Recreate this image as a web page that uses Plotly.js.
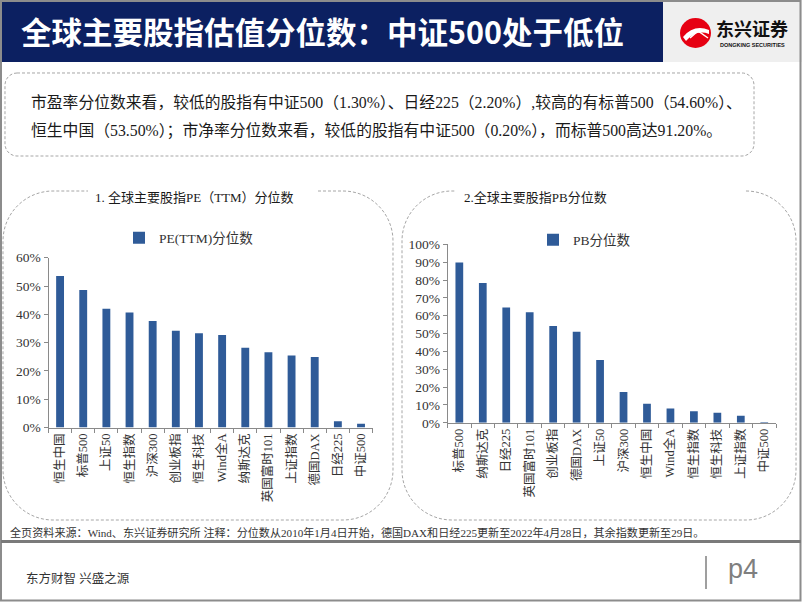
<!DOCTYPE html>
<html>
<head>
<meta charset="utf-8">
<script src="https://cdn.plot.ly/plotly-3.0.1.min.js"></script>
<style>html,body{margin:0;padding:0;overflow:hidden;background:#fff;}#chart{width:802px;height:602px;}</style>
</head>
<body>
<div id="chart"></div>
<script>
// ---- data ----
const peCategories = ["恒生中国","标普500","上证50","恒生指数","沪深300","创业板指","恒生科技","Wind全A","纳斯达克","英国富时101","上证指数","德国DAX","日经225","中证500"];
const peValues = [53.5, 48.6, 42.0, 40.6, 37.6, 34.2, 33.3, 32.7, 28.2, 26.6, 25.4, 24.9, 2.2, 1.3];
const pbCategories = ["标普500","纳斯达克","日经225","英国富时101","创业板指","德国DAX","上证50","沪深300","恒生中国","Wind全A","恒生指数","恒生科技","上证指数","中证500"];
const pbValues = [89.8, 78.3, 64.6, 62.0, 54.3, 51.1, 35.2, 17.2, 10.7, 8.0, 6.5, 5.7, 3.9, 0.5];
const peSeriesName = "PE(TTM)分位数";
const pbSeriesName = "PB分位数";
const pageTitle = "全球主要股指估值分位数：中证500处于低位";
const summaryLine1 = "市盈率分位数来看，较低的股指有中证500（1.30%）、日经225（2.20%）,较高的有标普500（54.60%）、";
const summaryLine2 = "恒生中国（53.50%）；市净率分位数来看，较低的股指有中证500（0.20%），而标普500高达91.20%。";
const chart1Title = "1. 全球主要股指PE（TTM）分位数";
const chart2Title = "2.全球主要股指PB分位数";
const sourceNote = "全页资料来源：Wind、东兴证券研究所 注释：分位数从2010年1月4日开始，德国DAX和日经225更新至2022年4月28日，其余指数更新至29日。";
const footerText = "东方财智 兴盛之源";
const pageNo = "p4";

// ---- helpers ----
const W = 802, H = 602;
const X = p => p / W;
const Y = p => 1 - p / H;
const SERIF = "'Liberation Serif', 'Noto Sans CJK SC', serif";
const SANS = "'Noto Sans CJK SC', 'Liberation Sans', sans-serif";
const BAR = "#2f5b98";
const AX = "#8a8a8a";
const TXT = "#333333";

function boxPath(x0, y0, x1, y1, r, gapL, gapR) {
  const k = 0.5523 * r;
  const P = (x, y) => X(x).toFixed(5) + "," + Y(y).toFixed(5);
  let s = "";
  if (gapL == null) {
    s += "M" + P(x0 + r, y0);
  } else {
    s += "M" + P(gapR, y0);
  }
  s += " L" + P(x1 - r, y0);
  s += " C" + P(x1 - r + k, y0) + " " + P(x1, y0 + r - k) + " " + P(x1, y0 + r);
  s += " L" + P(x1, y1 - r);
  s += " C" + P(x1, y1 - r + k) + " " + P(x1 - r + k, y1) + " " + P(x1 - r, y1);
  s += " L" + P(x0 + r, y1);
  s += " C" + P(x0 + r - k, y1) + " " + P(x0, y1 - r + k) + " " + P(x0, y1 - r);
  s += " L" + P(x0, y0 + r);
  s += " C" + P(x0, y0 + r - k) + " " + P(x0 + r - k, y0) + " " + P(x0 + r, y0);
  if (gapL == null) s += " Z"; else s += " L" + P(gapL, y0);
  return s;
}

const traces = [
  {type: "bar", x: peCategories, y: peValues, name: peSeriesName, xaxis: "x", yaxis: "y",
   marker: {color: BAR}, width: 0.34, legend: "legend", hoverinfo: "x+y"},
  {type: "bar", x: pbCategories, y: pbValues, name: pbSeriesName, xaxis: "x2", yaxis: "y2",
   marker: {color: BAR}, width: 0.33, legend: "legend2", hoverinfo: "x+y"}
];

const xCommon = {
  type: "category", showline: true, linecolor: AX, linewidth: 1,
  ticks: "outside", tickson: "boundaries", ticklen: 4, tickcolor: AX,
  tickangle: -90, tickfont: {family: SERIF, size: 12.5, color: TXT},
  showgrid: false, zeroline: false, fixedrange: true, automargin: false
};
const yCommon = {
  showline: true, linecolor: AX, linewidth: 1, ticks: "outside", ticklen: 4, tickcolor: AX,
  ticksuffix: "%", tickfont: {family: SERIF, size: 13.5, color: TXT},
  showgrid: false, zeroline: false, fixedrange: true, automargin: false, dtick: 10
};

const layout = {
  width: W, height: H,
  margin: {l: 0, r: 0, t: 0, b: 0, pad: 0},
  paper_bgcolor: "#ffffff", plot_bgcolor: "rgba(0,0,0,0)",
  showlegend: true, bargap: 0.66,
  xaxis: Object.assign({}, xCommon, {domain: [X(48.5), X(372.6)], anchor: "y"}),
  yaxis: Object.assign({}, yCommon, {domain: [Y(427.5), Y(257.7)], range: [0, 60], anchor: "x"}),
  xaxis2: Object.assign({}, xCommon, {domain: [X(447.6), X(776)], anchor: "y2"}),
  yaxis2: Object.assign({}, yCommon, {domain: [Y(422.8), Y(244.4)], range: [0, 100], anchor: "x2"}),
  legend: {x: X(119), y: Y(238), xanchor: "left", yanchor: "middle", orientation: "h",
           bgcolor: "rgba(0,0,0,0)", font: {family: SERIF, size: 13.5, color: TXT}},
  legend2: {x: X(533), y: Y(240), xanchor: "left", yanchor: "middle", orientation: "h",
           bgcolor: "rgba(0,0,0,0)", font: {family: SERIF, size: 13.5, color: TXT}},
  shapes: [
    // title bar
    {type: "rect", xref: "paper", yref: "paper", x0: X(0), x1: X(663), y0: Y(0), y1: Y(62),
     fillcolor: "#0c2061", line: {width: 0}, layer: "below"},
    // logo area
    {type: "rect", xref: "paper", yref: "paper", x0: X(663), x1: X(802), y0: Y(0), y1: Y(62),
     fillcolor: "#efefef", line: {width: 0}, layer: "below"},
    // slide frame
    {type: "rect", xref: "paper", yref: "paper", x0: X(1), x1: X(800.5), y0: Y(1), y1: Y(600.5),
     line: {color: "#8c8c8c", width: 2}, fillcolor: "rgba(0,0,0,0)"},
    // logo circle
    {type: "circle", xref: "paper", yref: "paper", x0: X(680), x1: X(711), y0: Y(18), y1: Y(48),
     fillcolor: "#e60012", line: {width: 0}},
    {type: "path", xref: "paper", yref: "paper",
     path: "M" + X(683) + "," + Y(37) + " Q" + X(694) + "," + Y(24) + " " + X(709) + "," + Y(30) +
           " L" + X(709) + "," + Y(34) + " Q" + X(696) + "," + Y(29) + " " + X(686) + "," + Y(41) + " Z",
     fillcolor: "#ffffff", line: {width: 0}},
    {type: "path", xref: "paper", yref: "paper",
     path: "M" + X(690) + "," + Y(38) + " L" + X(698) + "," + Y(31) + " L" + X(708) + "," + Y(38),
     line: {color: "#ffffff", width: 1.5}},
    // summary box
    {type: "path", xref: "paper", yref: "paper", path: boxPath(5, 73, 754, 156, 12, null, null),
     line: {color: "#a6a6a6", width: 1, dash: "3px,2px"}},
    // chart boxes
    {type: "path", xref: "paper", yref: "paper", path: boxPath(3, 191, 393, 520, 50, 88, 318),
     line: {color: "#a6a6a6", width: 1, dash: "3px,2px"}},
    {type: "path", xref: "paper", yref: "paper", path: boxPath(402, 191, 796, 520, 50, 455, 746),
     line: {color: "#a6a6a6", width: 1, dash: "3px,2px"}},
    // separator line above footer
    {type: "line", xref: "paper", yref: "paper", x0: X(1), x1: X(801), y0: Y(541.5), y1: Y(541.5),
     line: {color: "#7a7a7a", width: 3}},
    // footer vertical bar
    {type: "line", xref: "paper", yref: "paper", x0: X(706), x1: X(706), y0: Y(556), y1: Y(589),
     line: {color: "#7f7f7f", width: 1.5}}
  ],
  annotations: [
    {text: "<b>" + pageTitle + "</b>", xref: "paper", yref: "paper", x: X(19), y: Y(31),
     xanchor: "left", yanchor: "middle", showarrow: false,
     font: {family: SANS, size: 30.5, color: "#ffffff"}},
    {text: "<b>东兴证券</b>", xref: "paper", yref: "paper", x: X(752), y: Y(28),
     xanchor: "center", yanchor: "middle", showarrow: false,
     font: {family: SANS, size: 18, color: "#111111"}},
    {text: "<b>DONGKING SECURITIES</b>", xref: "paper", yref: "paper", x: X(752), y: Y(45),
     xanchor: "center", yanchor: "middle", showarrow: false,
     font: {family: "'Liberation Sans', sans-serif", size: 5.5, color: "#111111"}},
    {text: summaryLine1, xref: "paper", yref: "paper", x: X(29), y: Y(103),
     xanchor: "left", yanchor: "middle", showarrow: false,
     font: {family: SERIF, size: 15.8, color: "#1a1a1a"}},
    {text: summaryLine2, xref: "paper", yref: "paper", x: X(29), y: Y(131),
     xanchor: "left", yanchor: "middle", showarrow: false,
     font: {family: SERIF, size: 15.8, color: "#1a1a1a"}},
    {text: chart1Title, xref: "paper", yref: "paper", x: X(194), y: Y(197),
     xanchor: "center", yanchor: "middle", showarrow: false,
     font: {family: SERIF, size: 13, color: "#1a1a1a"}},
    {text: chart2Title, xref: "paper", yref: "paper", x: X(462), y: Y(197),
     xanchor: "left", yanchor: "middle", showarrow: false,
     font: {family: SERIF, size: 13, color: "#1a1a1a"}},
    {text: sourceNote, xref: "paper", yref: "paper", x: X(8), y: Y(532),
     xanchor: "left", yanchor: "middle", showarrow: false,
     font: {family: SERIF, size: 11.1, color: "#333333"}},
    {text: footerText, xref: "paper", yref: "paper", x: X(24), y: Y(578),
     xanchor: "left", yanchor: "middle", showarrow: false,
     font: {family: SERIF, size: 12.5, color: "#333333"}},
    {text: pageNo, xref: "paper", yref: "paper", x: X(726), y: Y(569),
     xanchor: "left", yanchor: "middle", showarrow: false,
     font: {family: "'Liberation Sans', sans-serif", size: 27, color: "#7f7f7f"}}
  ]
};

Plotly.newPlot("chart", traces, layout, {staticPlot: true, displayModeBar: false});
</script>
</body>
</html>
